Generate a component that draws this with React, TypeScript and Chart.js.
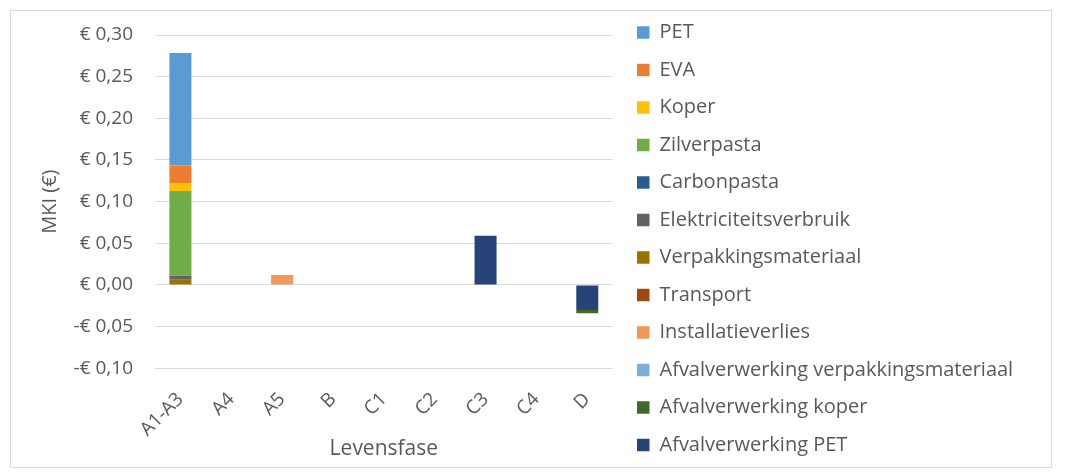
import React, { useEffect, useRef } from 'react';
import { Chart, registerables } from 'chart.js';

Chart.register(...registerables);

const categories = ['A1-A3', 'A4', 'A5', 'B', 'C1', 'C2', 'C3', 'C4', 'D'];

// series values per category (stack order: bottom to top)
const afvalverwerkingPET = [0, 0, 0, 0, 0, 0, 0.059, 0, -0.030];
const afvalverwerkingKoper = [0, 0, 0, 0, 0, 0, 0, 0, -0.004];
const afvalverwerkingVerpakking = [0, 0, 0, 0, 0, 0, 0, 0, 0];
const installatieverlies = [0, 0, 0.012, 0, 0, 0, 0, 0, 0];
const transport = [0, 0, 0, 0, 0, 0, 0, 0, 0];
const verpakkingsmateriaal = [0.0064, 0, 0, 0, 0, 0, 0, 0, 0];
const elektriciteitsverbruik = [0.0048, 0, 0, 0, 0, 0, 0, 0, 0];
const carbonpasta = [0, 0, 0, 0, 0, 0, 0, 0, 0];
const zilverpasta = [0.1017, 0, 0, 0, 0, 0, 0, 0, 0];
const koper = [0.0096, 0, 0, 0, 0, 0, 0, 0, 0];
const eva = [0.0208, 0, 0, 0, 0, 0, 0, 0, 0];
const pet = [0.135, 0, 0, 0, 0, 0, 0, 0, 0];

const seriesLabels = [
  'Afvalverwerking PET',
  'Afvalverwerking koper',
  'Afvalverwerking verpakkingsmateriaal',
  'Installatieverlies',
  'Transport',
  'Verpakkingsmateriaal',
  'Elektriciteitsverbruik',
  'Carbonpasta',
  'Zilverpasta',
  'Koper',
  'EVA',
  'PET',
];
const seriesValues = [
  afvalverwerkingPET,
  afvalverwerkingKoper,
  afvalverwerkingVerpakking,
  installatieverlies,
  transport,
  verpakkingsmateriaal,
  elektriciteitsverbruik,
  carbonpasta,
  zilverpasta,
  koper,
  eva,
  pet,
];
const seriesColors = [
  '#264478',
  '#43682B',
  '#7CAFDD',
  '#F1975A',
  '#9E480E',
  '#997300',
  '#636363',
  '#255E91',
  '#70AD47',
  '#FFC000',
  '#ED7D31',
  '#5B9BD5',
];

const yMin = -0.1;
const yMax = 0.3;
const yStep = 0.05;

const FONT = '"Open Sans", sans-serif';
const TEXT = '#595959';
const W = 1065;
const H = 474;

function euro(v: number): string {
  const a = Math.abs(v) < 1e-9 ? 0 : v;
  const s = Math.abs(a).toFixed(2).replace('.', ',');
  return (a < 0 ? '-€ ' : '€ ') + s;
}

export default function App() {
  const ref = useRef<HTMLCanvasElement | null>(null);

  useEffect(() => {
    const canvas = ref.current;
    if (!canvas) return;

    const legendSize = 20;
    const legendPad = 17.5;
    const boxW = 12.5;
    const m = document.createElement('canvas').getContext('2d')!;
    m.font = `normal normal ${legendSize}px ${FONT}`;
    let maxText = 0;
    seriesLabels.forEach((l) => {
      maxText = Math.max(maxText, m.measureText(l).width);
    });
    const chartRight = 612.7;
    const legendLeft = 619.5;
    const legendWidth = legendPad + boxW + legendSize / 2 + maxText + 10;
    const padRight = Math.max(0, W - legendLeft - legendWidth);

    const chart = new Chart(canvas, {
      type: 'bar',
      data: {
        labels: categories,
        datasets: seriesLabels.map((label, i) => ({
          label,
          data: seriesValues[i],
          backgroundColor: seriesColors[i],
          borderWidth: 0,
          barPercentage: 0.433,
          categoryPercentage: 1,
        })),
      },
      options: {
        responsive: false,
        animation: false,
        devicePixelRatio: 1,
        layout: { padding: { top: 5, left: 0, right: padRight, bottom: 0 } },
        plugins: {
          legend: {
            position: 'right',
            align: 'start',
            reverse: true,
            maxWidth: 1000,
            labels: {
              boxWidth: boxW,
              boxHeight: boxW,
              padding: legendPad,
              color: TEXT,
              font: { family: FONT, size: legendSize },
            },
          },
          tooltip: { enabled: false },
        },
        scales: {
          x: {
            stacked: true,
            position: 'bottom',
            grid: { display: false },
            border: { display: false },
            ticks: {
              color: TEXT,
              font: { family: FONT, size: 19 },
              minRotation: 45,
              maxRotation: 45,
              padding: 12,
              labelOffset: 0,
            },
            title: {
              display: true,
              text: 'Levensfase',
              color: TEXT,
              font: { family: FONT, size: 21 },
              padding: { top: 0, bottom: 12.4 },
            },
            afterFit: (s: any) => {
              s.height = H - 368.3;
            },
          },
          x2: {
            type: 'category',
            position: 'top',
            grid: { display: false },
            border: { display: false },
            ticks: { display: false },
            afterFit: (s: any) => {
              s.height = 30;
            },
          },
          y: {
            stacked: true,
            min: yMin,
            max: yMax,
            grid: { color: '#d9d9d9', lineWidth: 1, drawTicks: false },
            border: { display: false },
            ticks: {
              stepSize: yStep,
              color: TEXT,
              font: { family: FONT, size: 19 },
              padding: 22,
              callback: (v: any) => euro(Number(v)),
            },
            title: {
              display: true,
              text: 'MKI (€)',
              color: TEXT,
              font: { family: FONT, size: 20 },
              padding: { top: 38, bottom: 0 },
            },
            afterFit: (s: any) => {
              s.width = 155;
            },
          },
          y2: {
            type: 'linear',
            position: 'right',
            grid: { display: false },
            border: { display: false },
            ticks: { display: false },
            afterFit: (s: any) => {
              s.width = legendLeft - chartRight;
            },
          },
        },
      } as any,
    });

    return () => {
      chart.destroy();
    };
  }, []);

  return (
    <div style={{ position: 'fixed', left: 0, top: 0, width: W, height: H, background: '#fff' }}>
      <canvas ref={ref} width={W} height={H} style={{ display: 'block', width: W, height: H }} />
      <div
        style={{
          position: 'absolute',
          left: 10,
          top: 10,
          width: 1042,
          height: 458,
          border: '1px solid #d9d9d9',
          boxSizing: 'border-box',
          pointerEvents: 'none',
        }}
      />
    </div>
  );
}
